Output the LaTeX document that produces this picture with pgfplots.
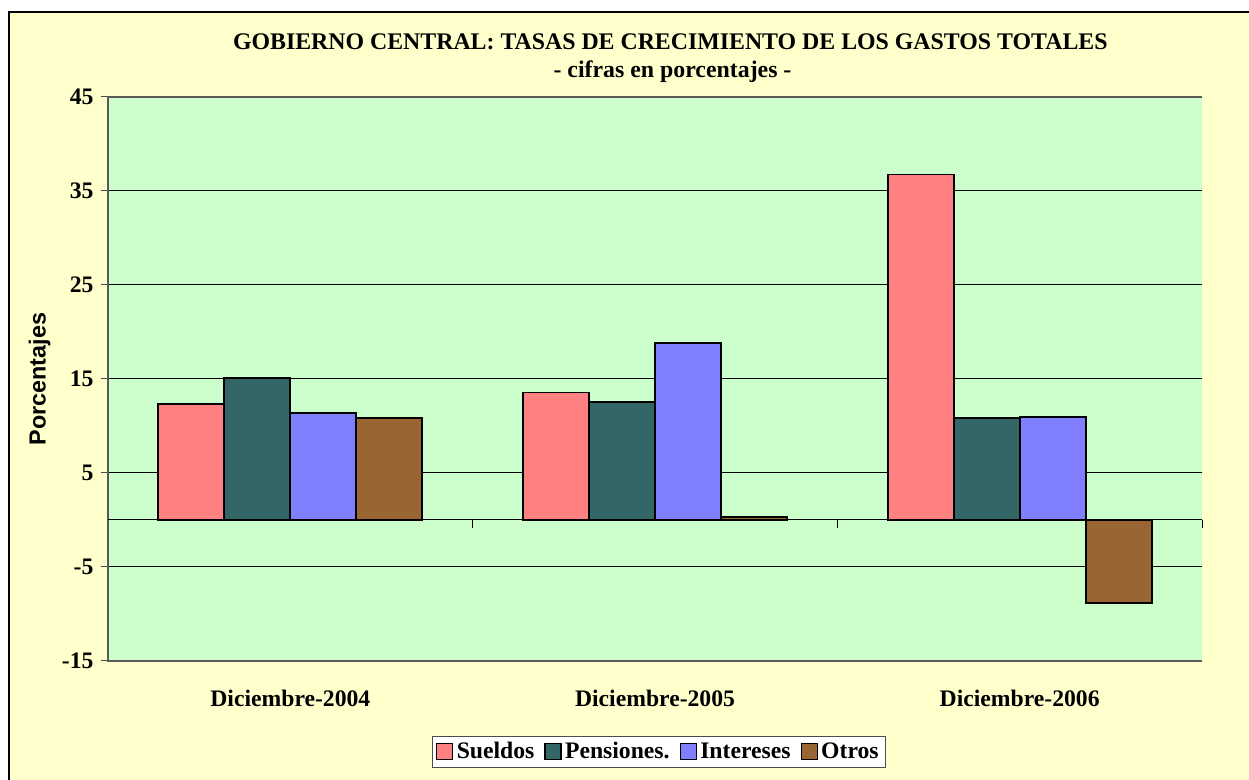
\documentclass[border=0pt]{standalone}
\usepackage{pgfplots}
\pgfplotsset{compat=1.18}
\usepackage{fontspec}
\setmainfont{Liberation Serif}
\newfontfamily\arialfont{Liberation Sans}
\definecolor{bgout}{HTML}{FFFFCC}
\definecolor{bgplot}{HTML}{CCFFCC}
\definecolor{cSue}{HTML}{FF8080}
\definecolor{cPen}{HTML}{336666}
\definecolor{cInt}{HTML}{8080FF}
\definecolor{cOtr}{HTML}{996633}
\begin{document}
\begin{tikzpicture}
\clip (-64.8pt,-71.4pt) rectangle (684.6pt,396.6pt);
\fill[bgout] (-59.4pt,-80pt) rectangle (700pt,389.4pt);
\draw[black,line width=0.9pt] (-59.4pt,-80pt) -- (-59.4pt,389.4pt) -- (700pt,389.4pt);
\begin{axis}[
  at={(0pt,0pt)}, anchor=south west,
  scale only axis,
  width=656.4pt, height=338.4pt,
  xmin=-0.5, xmax=2.5,
  ymin=-15, ymax=45,
  ytick={-15,-5,5,15,25,35,45},
  yticklabels={-15,-5,5,15,25,35,45},
  yticklabel style={font=\bfseries\fontsize{14.2}{16}\selectfont, xshift=-1pt},
  ytick align=outside,
  ytick pos=left,
  ytick style={draw=black!70, line width=0.6pt},
  major tick length=4.2pt,
  xtick={0,1,2},
  xticklabels={Diciembre-2004,Diciembre-2005,Diciembre-2006},
  xticklabel style={font=\bfseries\fontsize{14.2}{16}\selectfont, yshift=-10pt},
  xtick style={draw=none},
  ymajorgrids,
  grid style={black, line width=0.6pt},
  axis line style={draw=none},
  axis background/.style={fill=bgplot},
  ylabel={\arialfont\bfseries Porcentajes},
  ylabel style={font=\fontsize{14}{16}\selectfont, at={(axis description cs:-0.0625,0.5)}, anchor=center},
  ybar=0pt,
  bar width=39.6pt,
  legend columns=4,
  legend style={at={(axis description cs:0.5037,-0.161)}, anchor=center,
    draw=black!70, fill=white, font=\bfseries\fontsize{14.2}{16}\selectfont,
    /tikz/every even column/.append style={column sep=4pt},
    /tikz/every odd column/.append style={column sep=0pt},
    inner xsep=2pt, inner ysep=1.5pt},
  legend image code/.code={\draw[#1, line width=0.8pt] (0pt,-4.8pt) rectangle (9.6pt,4.8pt);},
  clip=false,
]
\addplot[fill=cSue, draw=black, line width=1.1pt] coordinates {(0,12.37) (1,13.57) (2,36.75)};
\addplot[fill=cPen, draw=black, line width=1.1pt] coordinates {(0,15.1) (1,12.54) (2,10.88)};
\addplot[fill=cInt, draw=black, line width=1.1pt] coordinates {(0,11.4) (1,18.83) (2,10.99)};
\addplot[fill=cOtr, draw=black, line width=1.1pt] coordinates {(0,10.85) (1,0.32) (2,-8.8)};
\legend{Sueldos,Pensiones.,Intereses,Otros}
\draw[black!65, line width=0.9pt] (rel axis cs:1,1) -- (rel axis cs:0,1) -- (rel axis cs:0,0) -- (rel axis cs:1,0);
\draw[black, line width=0.6pt] (axis cs:-0.5,0) -- (axis cs:2.5,0);
\draw[black, line width=0.6pt] (axis cs:0.5,0) -- (axis cs:0.5,-0.85);
\draw[black, line width=0.6pt] (axis cs:1.5,0) -- (axis cs:1.5,-0.85);
\draw[black, line width=0.6pt] (axis cs:2.5,0) -- (axis cs:2.5,-0.85);
\node[font=\bfseries\fontsize{14.3}{16}\selectfont] at (axis description cs:0.514,1.0975) {GOBIERNO CENTRAL: TASAS DE CRECIMIENTO DE LOS GASTOS TOTALES};
\node[font=\bfseries\fontsize{14.3}{16}\selectfont] at (axis description cs:0.516,1.0443) {- cifras en porcentajes -};
\end{axis}
\end{tikzpicture}
\end{document}
